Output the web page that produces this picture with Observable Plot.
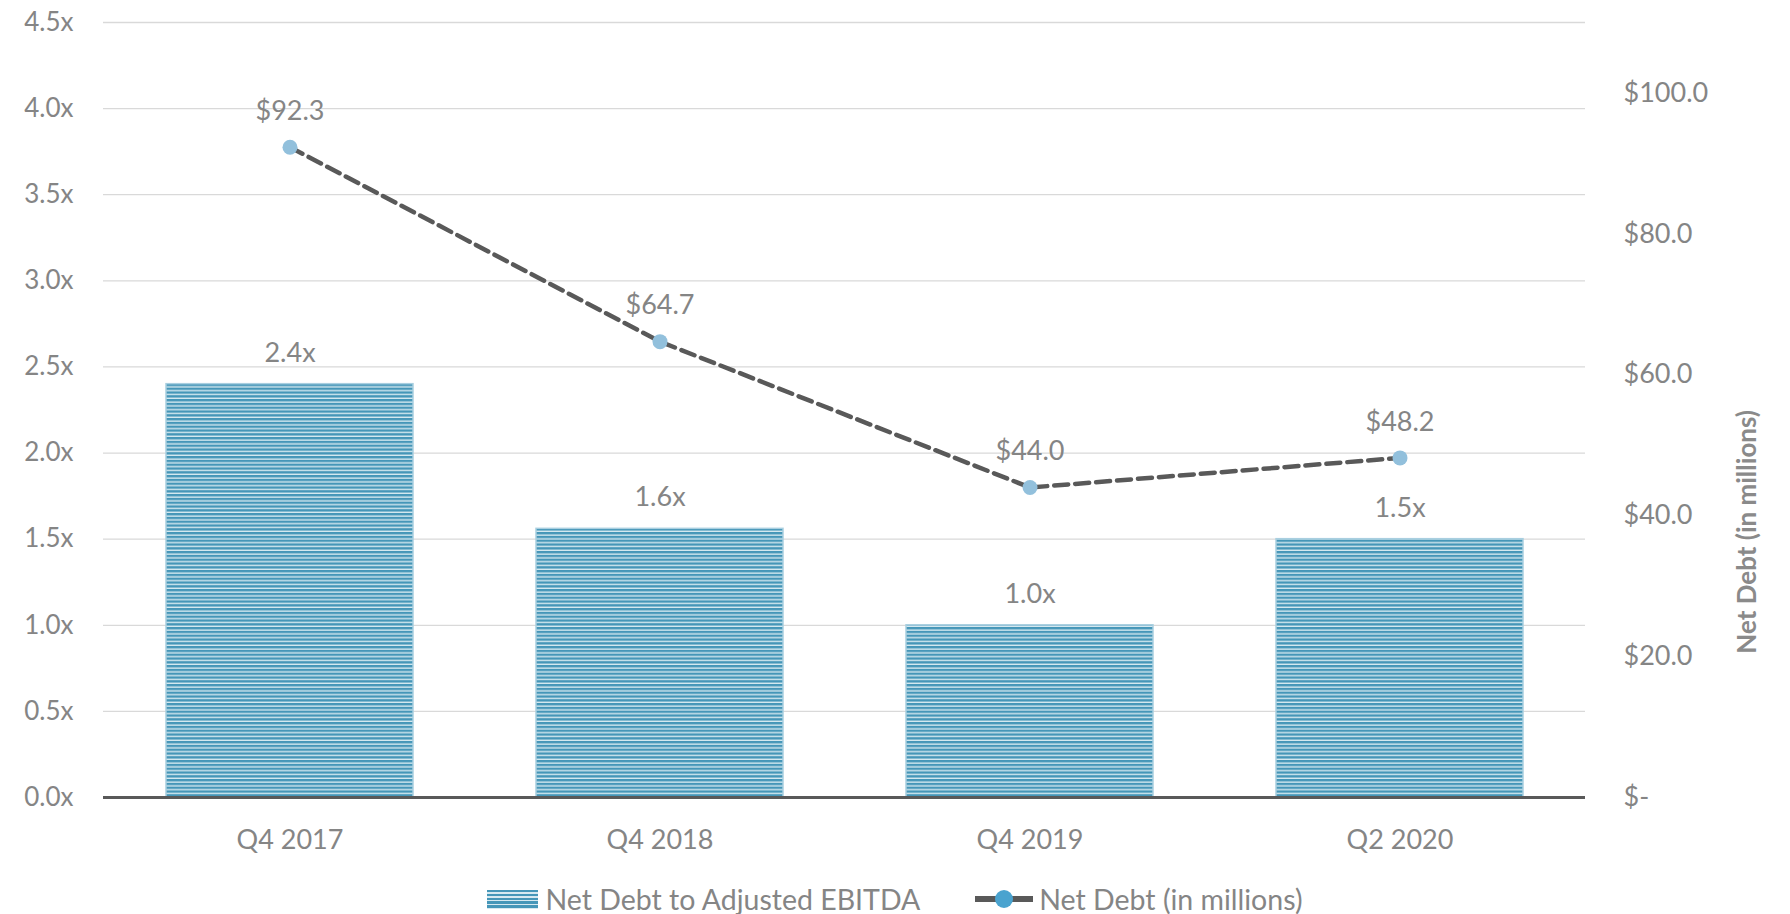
<!DOCTYPE html>
<html>
<head>
<meta charset="utf-8">
<script src="https://cdn.jsdelivr.net/npm/d3@7"></script>
<script src="https://cdn.jsdelivr.net/npm/@observablehq/plot@0.6"></script>
<style>
  html, body { margin: 0; padding: 0; background: #fff; }
  body { width: 1790px; height: 914px; overflow: hidden; font-family: Lato, "Open Sans", sans-serif; }
  #legend { height: 54px; display: flex; justify-content: center; align-items: center; gap: 0; color: #858585; font-size: 28.5px; margin-top: 12px; }
  .item { display: flex; align-items: center; }
  .barsw { width: 51px; height: 19px; background: repeating-linear-gradient(to bottom, #4596b8 0 2.4px, #d6e9f0 2.4px 3.8px); margin-right: 7px; }
</style>
</head>
<body>
<div id="chart"></div>
<div id="legend">
  <div class="item"><div class="barsw"></div><span>Net Debt to Adjusted EBITDA</span></div>
  <div class="item" style="margin-left:54px"><svg width="60" height="22" style="margin-right:5px"><line x1="1" y1="11" x2="59" y2="11" stroke="#595959" stroke-width="6"/><circle cx="30" cy="11" r="9" fill="#4aa3cf"/></svg><span>Net Debt (in millions)</span></div>
</div>
<script>
const categories = ["Q4 2017", "Q4 2018", "Q4 2019", "Q2 2020"];
const ratio = [2.4, 1.56, 1.0, 1.5];
const netDebt = [92.3, 64.7, 44.0, 48.2];
const leftTicks = [0, 0.5, 1, 1.5, 2, 2.5, 3, 3.5, 4, 4.5];
const rightTicks = [0, 20, 40, 60, 80, 100];
const leftMax = 4.5, rightMax = 110;

const toLeft = v => v * leftMax / rightMax;
const bars = categories.map((c, i) => ({cat: c, v: ratio[i]}));
const line = categories.map((c, i) => ({cat: c, v: netDebt[i], y: toLeft(netDebt[i])}));

const grey = "#858585";
const font = "Lato, 'Open Sans', sans-serif";

const defs = () => {
  const d = d3.create("svg:defs");
  const p = d.append("pattern").attr("id", "stripes").attr("patternUnits", "userSpaceOnUse")
    .attr("width", 10).attr("height", 3.8);
  p.append("rect").attr("width", 10).attr("height", 3.8).attr("fill", "#d6e9f0");
  p.append("rect").attr("width", 10).attr("height", 2.4).attr("fill", "#4596b8");
  return d.node();
};

const chart = Plot.plot({
  width: 1790,
  height: 860,
  marginLeft: 103,
  marginRight: 205,
  marginTop: 22,
  marginBottom: 63,
  style: {fontFamily: font, fontSize: "26px", color: grey, background: "#fff"},
  x: {domain: categories, paddingInner: 1/3, paddingOuter: 1/6, label: null},
  y: {domain: [0, leftMax], label: null},
  marks: [
    defs,
    Plot.ruleY(leftTicks.filter(t => t > 0), {stroke: "#d9d9d9", strokeWidth: 1.3}),
    Plot.axisY(leftTicks, {anchor: "left", tickSize: 0, tickPadding: 30, tickFormat: d => d.toFixed(1) + "x", fill: grey, fontSize: 26, label: null}),
    Plot.axisY(rightTicks.map(toLeft), {anchor: "right", tickSize: 0, tickPadding: 38, textAnchor: "start",
      tickFormat: d => { const v = Math.round(d * rightMax / leftMax); return v === 0 ? "$-" : "$" + v.toFixed(1); }, fill: grey, fontSize: 27, label: null}),
    Plot.axisX({tickSize: 0, tickPadding: 32, fill: grey, fontSize: 27, label: null}),
    Plot.barY(bars, {x: "cat", y: "v", fill: "url(#stripes)", stroke: "#a9cfe0", strokeWidth: 1.5}),
    Plot.ruleY([0], {stroke: "#595959", strokeWidth: 3}),
    Plot.text(bars, {x: "cat", y: "v", text: d => d.v.toFixed(1) + "x", dy: -31, fill: grey, fontSize: 27}),
    Plot.line(line, {x: "cat", y: "y", stroke: "#595959", strokeWidth: 4.5, strokeDasharray: "14,7"}),
    Plot.dot(line, {x: "cat", y: "y", r: 7.5, fill: "#92c0dc", stroke: "none"}),
    Plot.text(line, {x: "cat", y: "y", text: d => "$" + d.v.toFixed(1), dy: -36, fill: grey, fontSize: 27}),
    Plot.text(["Net Debt (in millions)"], {frameAnchor: "right", dx: 162, rotate: -90, fill: "#8a8a8a", fontWeight: "bold", fontSize: 26})
  ]
});
document.getElementById("chart").appendChild(chart);
</script>
</body>
</html>
